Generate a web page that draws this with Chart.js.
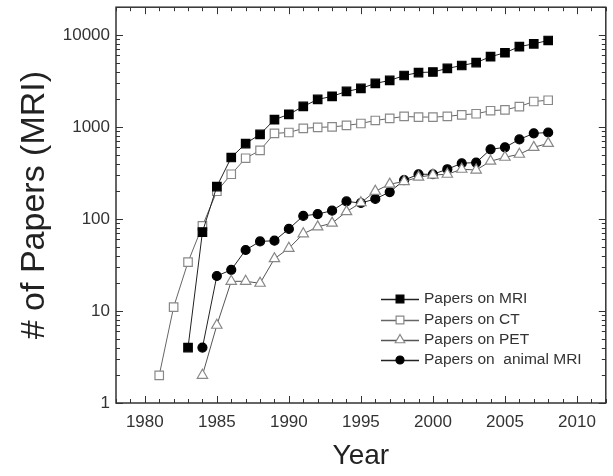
<!DOCTYPE html>
<html>
<head>
<meta charset="utf-8">
<script src="https://cdn.jsdelivr.net/npm/chart.js@4.4.1/dist/chart.umd.min.js"></script>
<style>
    html, body { margin: 0; padding: 0; background: #fff; }
</style>
</head>
<body>
<canvas id="chart" width="613" height="476"></canvas>
<script>
// values (log scale), null = no data that year
const years = [1981, 1982, 1983, 1984, 1985, 1986, 1987, 1988, 1989, 1990,
               1991, 1992, 1993, 1994, 1995, 1996, 1997, 1998, 1999, 2000,
               2001, 2002, 2003, 2004, 2005, 2006, 2007, 2008];
const mriPapers = [null, null, 4, 72, 225, 465, 660, 830, 1200, 1370,
                   1670, 1990, 2150, 2430, 2620, 2970, 3200, 3620, 3900, 3950,
                   4320, 4650, 5000, 5800, 6400, 7450, 8000, 8700];
const ctPapers = [2, 11, 34, 84, 200, 306, 457, 557, 850, 870,
                  963, 990, 1000, 1038, 1090, 1175, 1236, 1300, 1280, 1280,
                  1300, 1355, 1390, 1500, 1535, 1665, 1890, 1950];
const petPapers = [null, null, null, 2, 7, 21, 21, 20, 37, 48,
                   69, 82, 90, 120, 150, 200, 239, 255, 285, 300,
                   306, 347, 340, 424, 468, 505, 600, 663];
const animalMriPapers = [null, null, null, 4, 24, 28, 46, 57, 58, 78,
                         108, 113, 123, 155, 149, 165, 196, 264, 306, 306,
                         347, 403, 410, 571, 600, 732, 851, 870];
const seriesNames = ['Papers on MRI', 'Papers on CT', 'Papers on PET', 'Papers on  animal MRI'];
const xTicks = [1980, 1985, 1990, 1995, 2000, 2005, 2010];
const yTicks = [1, 10, 100, 1000, 10000];
const xMin = 1978, xMax = 2012;
const yMin = 1, yMax = 20000;

const FONT = '"Liberation Sans", Arial, sans-serif';

function toPoints(values) {
    return years.map((yr, i) => ({ x: yr, y: values[i] })).filter(p => p.y !== null);
}

function makeSeries(label, values, style, radius, fill, stroke, lineColor) {
    return {
        label: label,
        data: toPoints(values),
        borderColor: lineColor,
        borderWidth: 1,
        pointStyle: style,
        pointRadius: radius,
        pointBackgroundColor: fill,
        pointBorderColor: stroke,
        pointBorderWidth: 1.2,
        tension: 0
    };
}

// frame, inward ticks on all four sides, and the boxed-in legend
const frameAndLegend = {
    id: 'frameAndLegend',
    afterDraw(chart) {
        const { ctx, chartArea: a, scales: { x, y } } = chart;
        ctx.save();
        ctx.strokeStyle = '#333';
        ctx.lineWidth = 1;
        const seg = (x1, y1, x2, y2) => {
            ctx.beginPath(); ctx.moveTo(x1, y1); ctx.lineTo(x2, y2); ctx.stroke();
        };
        for (let yr = xMin; yr <= xMax; yr++) {
            const px = Math.round(x.getPixelForValue(yr)) + 0.5;
            const len = yr % 5 === 0 ? 7 : 4;
            seg(px, a.bottom, px, a.bottom - len);
            seg(px, a.top, px, a.top + len);
        }
        for (let d = 1; d < yMax; d *= 10) {
            for (let m = 1; m <= 9; m++) {
                const v = d * m;
                if (v > yMax) break;
                const py = Math.round(y.getPixelForValue(v)) + 0.5;
                const len = m === 1 ? 7 : 4;
                seg(a.left, py, a.left + len, py);
                seg(a.right, py, a.right - len, py);
            }
        }
        ctx.lineWidth = 1.5;
        ctx.strokeRect(a.left, a.top, a.right - a.left, a.bottom - a.top);

        // legend
        const lx = 381, lw = 38, tx = 424;
        const rows = [299, 320, 340, 360];
        ctx.font = '15.5px ' + FONT;
        ctx.textBaseline = 'middle';
        ctx.textAlign = 'left';
        chart.data.datasets.forEach((ds, i) => {
            const ly = rows[i];
            ctx.strokeStyle = ds.borderColor;
            ctx.lineWidth = 1.5;
            seg(lx, ly + 0.5, lx + lw, ly + 0.5);
            ctx.fillStyle = ds.pointBackgroundColor;
            ctx.strokeStyle = ds.pointBorderColor;
            ctx.lineWidth = ds.pointBorderWidth;
            Chart.helpers.drawPoint(ctx, {
                pointStyle: ds.pointStyle,
                radius: ds.pointRadius - 0.5,
                rotation: 0,
                borderWidth: ds.pointBorderWidth
            }, lx + lw / 2, ly);
            ctx.fillStyle = '#333';
            ctx.fillText(ds.label, tx, ly);
        });
        ctx.restore();
    }
};

new Chart(document.getElementById('chart'), {
    type: 'line',
    data: {
        datasets: [
            makeSeries(seriesNames[0], mriPapers, 'rect', 6, '#000', '#000', '#222'),
            makeSeries(seriesNames[1], ctPapers, 'rect', 6, '#fff', '#888', '#666'),
            makeSeries(seriesNames[2], petPapers, 'triangle', 6, '#fff', '#888', '#555'),
            makeSeries(seriesNames[3], animalMriPapers, 'circle', 4.5, '#000', '#000', '#222')
        ]
    },
    options: {
        responsive: false,
        animation: false,
        layout: { padding: { left: 0, right: 4, top: 7, bottom: 0 } },
        plugins: {
            legend: { display: false },
            tooltip: { enabled: false }
        },
        scales: {
            x: {
                type: 'linear',
                min: xMin,
                max: xMax,
                grid: { display: false, drawTicks: false },
                border: { display: false },
                afterBuildTicks: scale => { scale.ticks = xTicks.map(v => ({ value: v })); },
                afterFit: scale => { scale.height = 73; scale.paddingLeft = 0; scale.paddingRight = 0; },
                ticks: {
                    color: '#333',
                    padding: 9,
                    maxRotation: 0,
                    font: { family: FONT, size: 17 },
                    callback: v => String(v)
                },
                title: {
                    display: true,
                    text: 'Year',
                    color: '#222',
                    font: { family: FONT, size: 28 },
                    padding: { top: 0, bottom: 3 }
                }
            },
            y: {
                type: 'logarithmic',
                min: yMin,
                max: yMax,
                grid: { display: false, drawTicks: false },
                border: { display: false },
                afterBuildTicks: scale => { scale.ticks = yTicks.map(v => ({ value: v })); },
                afterFit: scale => { scale.width = 116; scale.paddingTop = 0; scale.paddingBottom = 0; },
                ticks: {
                    color: '#333',
                    padding: 6,
                    font: { family: FONT, size: 17 },
                    callback: v => String(v)
                },
                title: {
                    display: true,
                    text: '# of Papers (MRI)',
                    color: '#222',
                    font: { family: FONT, size: 34 },
                    padding: { top: 14, bottom: 0 }
                }
            }
        }
    },
    plugins: [frameAndLegend]
});
</script>
</body>
</html>
